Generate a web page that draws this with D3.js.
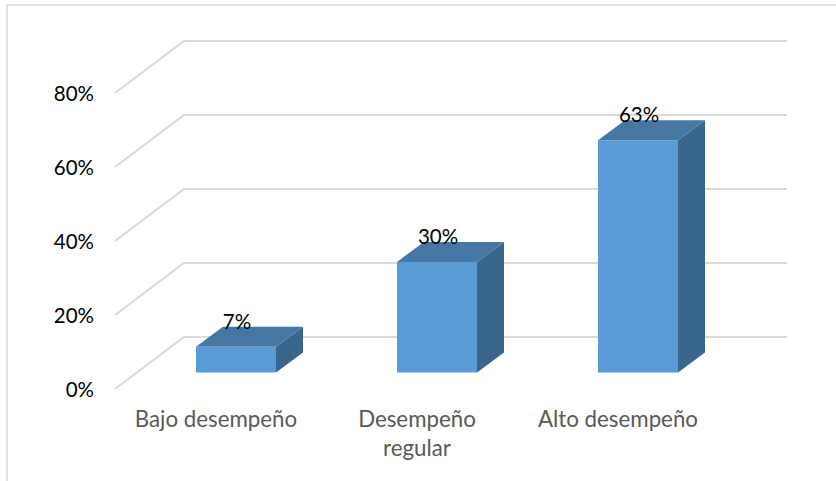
<!DOCTYPE html>
<html lang="en">
<head>
    <meta charset="UTF-8">
    <title>Desempeño</title>
    <script src="https://d3js.org/d3.v7.min.js" charset="utf-8"></script>
    <style>
        html, body { margin: 0; padding: 0; background: white; }
        svg { display: block; font-family: "Lato", "Open Sans", sans-serif; }
    </style>
</head>
<body>
    <script>
        // values
        var categories = ["Bajo desempeño", "Desempeño regular", "Alto desempeño"];
        var categoryLines = [["Bajo desempeño"], ["Desempeño", "regular"], ["Alto desempeño"]];
        var values = [0.07, 0.30, 0.63];
        var valueLabels = ["7%", "30%", "63%"];
        var ticks = [0, 0.2, 0.4, 0.6, 0.8];

        var width = 836;
        var height = 481;

        // 3d offsets of the chart box and of the bars
        var wallDx = 69, wallDy = 52;
        var barDx = 27, barDy = 20;

        var svg = d3.select("body").append("svg")
            .attr("width", width)
            .attr("height", height);

        // outer frame
        svg.append("path")
            .attr("d", d3.line()([[7, height], [7, 5], [width, 5]]))
            .attr("fill", "none")
            .attr("stroke", "#d9d9d9")
            .attr("stroke-width", 1.5);

        var x = d3.scaleBand().domain(categories).range([196, 678]).paddingInner(0.602);
        var yWall = d3.scaleLinear().domain([0, 0.8]).range([389, 93]);
        var yBar = d3.scaleLinear().domain([0, 0.8]).range([372.5, 77.5]);

        // gridlines: floor/side part then back wall part
        svg.append("g").selectAll("path")
            .data(ticks)
            .enter()
            .append("path")
            .attr("fill", "none")
            .attr("stroke", "#d9d9d9")
            .attr("stroke-width", 2)
            .attr("d", function (d) {
                var y0 = yWall(d);
                return d3.line()([[115, y0], [115 + wallDx, y0 - wallDy], [787, y0 - wallDy]]);
            });

        // tick labels
        svg.append("g").selectAll("text")
            .data(ticks)
            .enter()
            .append("text")
            .attr("x", 94)
            .attr("y", function (d) { return yWall(d) + 8; })
            .attr("text-anchor", "end")
            .attr("font-size", 20.5)
            .attr("fill", "#000")
            .text(function (d) { return d3.format(".0%")(d); });

        // bars
        var bars = svg.append("g").selectAll("g")
            .data(categories)
            .enter()
            .append("g");

        // side
        bars.append("path")
            .attr("fill", "#3a668c")
            .attr("d", function (d, i) {
                var r = x(d) + x.bandwidth();
                var t = yBar(values[i]), b = yBar(0);
                return d3.line()([[r, t], [r + barDx, t - barDy], [r + barDx, b - barDy], [r, b]]) + "Z";
            });

        // top
        bars.append("path")
            .attr("fill", "#4677a3")
            .attr("d", function (d, i) {
                var l = x(d), r = l + x.bandwidth();
                var t = yBar(values[i]);
                return d3.line()([[l, t], [l + barDx, t - barDy], [r + barDx, t - barDy], [r, t]]) + "Z";
            });

        // front
        bars.append("rect")
            .attr("fill", "#5b9bd5")
            .attr("x", function (d) { return x(d); })
            .attr("width", x.bandwidth())
            .attr("y", function (d, i) { return yBar(values[i]); })
            .attr("height", function (d, i) { return yBar(0) - yBar(values[i]); });

        // value labels
        bars.append("text")
            .attr("x", function (d) { return x(d) + x.bandwidth() / 2 + 1; })
            .attr("y", function (d, i) { return yBar(values[i]) - 18; })
            .attr("text-anchor", "middle")
            .attr("font-size", 20.5)
            .attr("fill", "#000")
            .text(function (d, i) { return valueLabels[i]; });

        // category labels
        var cats = svg.append("g").selectAll("text")
            .data(categories)
            .enter()
            .append("text")
            .attr("text-anchor", "middle")
            .attr("font-size", 22.3)
            .attr("fill", "#595959");

        cats.selectAll("tspan")
            .data(function (d, i) {
                return categoryLines[i].map(function (t) { return { text: t, cat: d }; });
            })
            .enter()
            .append("tspan")
            .attr("x", function (d) { return x(d.cat) + x.bandwidth() / 2 - 20; })
            .attr("y", function (d, i) { return 427 + i * 29; })
            .text(function (d) { return d.text; });
    </script>
</body>
</html>
